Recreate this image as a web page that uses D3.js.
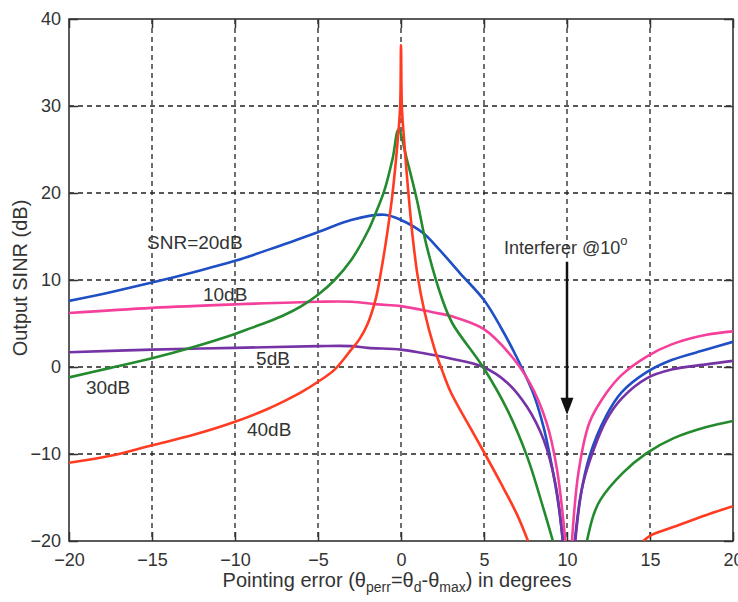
<!DOCTYPE html>
<html>
<head>
<meta charset="utf-8">
<script src="https://cdn.jsdelivr.net/npm/d3@7"></script>
<style>
  body { margin: 0; background: #fff; }
  text { font-family: "Liberation Sans", Arial, sans-serif; fill: #333; }
</style>
</head>
<body>
<script>
// axis ticks
var xTicks = [-20, -15, -10, -5, 0, 5, 10, 15, 20];
var yTicks = [-20, -10, 0, 10, 20, 30, 40];

// curves, null splits the two branches around the null at 10 deg
var snr20X = [-20, -17.5, -15, -12.5, -10, -7.5, -5, -3, -1, 0, 1.33, 2.35, 3.55, 5, 6, 7, 8, 8.6, 9.1, 9.5, 9.75, null, 10.47, 10.8, 11.35, 12.37, 13.3, 14.8, 16.3, 18.4, 20];
var snr20Y = [7.6, 8.6, 9.7, 10.9, 12.2, 13.8, 15.5, 16.9, 17.5, 16.9, 15.4, 13.4, 10.8, 7.7, 4.6, 1.0, -3.2, -7.0, -11.5, -16, -20, null, -20, -15, -10.3, -5.6, -2.9, -0.6, 0.8, 2.0, 2.9];

var snr10X = [-20, -15, -10, -5, -3, -1.4, 0, 1.9, 3.1, 4.95, 6.5, 7.75, 8.77, 9.4, 9.9, null, 10.3, 10.7, 11.35, 12.37, 13.3, 14.8, 16.3, 18.4, 20];
var snr10Y = [6.2, 6.8, 7.2, 7.5, 7.5, 7.2, 7.0, 6.3, 5.8, 4.4, 1.6, -1.8, -6.4, -11.8, -20, null, -20, -12, -6.4, -3.0, -0.9, 1.2, 2.6, 3.7, 4.1];

var snr5X = [-20, -15, -10, -5, -3, -2, 0, 1.3, 2.9, 4.95, 6.4, 7.6, 8.6, 9.3, 9.75, null, 10.5, 10.9, 11.35, 12.37, 13.3, 14.8, 16.3, 18.4, 20];
var snr5Y = [1.7, 2.0, 2.2, 2.4, 2.4, 2.2, 2.0, 1.6, 1.0, 0.0, -1.8, -4.6, -8.4, -13.4, -20, null, -20, -14, -10.9, -6.1, -3.6, -1.3, -0.3, 0.3, 0.7];

var snr30X = [-20, -17.5, -15, -12.5, -10, -9, -8, -7, -6, -5, -4, -3, -2, -1.5, -1, -0.5, -0.15, 0.36, 0.96, 1.56, 2.5, 3.1, 4.94, 6.4, 7.6, 8.6, 9.15, null, 11.2, 11.6, 12.0, 13.35, 14.8, 16.4, 18.4, 20];
var snr30Y = [-1.2, -0.1, 1.0, 2.3, 3.8, 4.5, 5.2, 6.0, 7.0, 8.3, 10.0, 12.3, 15.6, 17.8, 20.3, 24, 27.3, 23.8, 19.2, 13.8, 7.7, 5.0, 0, -4.9, -10.3, -16.4, -20, null, -20, -17, -15.3, -12.2, -9.9, -8.2, -6.9, -6.2];

var snr40X = [-20, -17.5, -15, -12.5, -10, -8, -7, -6, -5, -4, -3, -2.5, -2, -1.5, -1.2, -0.9, -0.55, -0.2, -0.05, 0, 0.05, 0.15, 0.4, 0.7, 1.0, 1.4, 2.0, 2.5, 3, 4, 5, 6, 7, 7.65, null, 14.6, 15, 16.4, 18.4, 20];
var snr40Y = [-11.0, -10.2, -9.0, -7.8, -6.3, -4.8, -3.9, -2.9, -1.7, -0.3, 2.0, 3.2, 5.0, 8.0, 11, 14.5, 19.3, 26, 30, 37, 30, 27, 21, 15, 10.5, 6.5, 2.2, -0.5, -2.9, -6.4, -9.8, -13.3, -17, -20, null, -20, -19.4, -18.4, -17.0, -16.0];

var curveNames = ["SNR=20dB", "10dB", "5dB", "30dB", "40dB"];
var curveColors = ["#1f4fc4", "#f5409b", "#7633a6", "#238a2e", "#ff3b22"];
var curveXs = [snr20X, snr10X, snr5X, snr30X, snr40X];
var curveYs = [snr20Y, snr10Y, snr5Y, snr30Y, snr40Y];

// where the curve labels sit (data coords, text start / baseline)
var labelX = [-15.3, -11.93, -8.73, -18.98, -9.28];
var labelY = [13.56, 7.6, 0.23, -3.1, -7.93];

// interferer arrow
var arrowX = 10, arrowTop = 12.1, arrowTip = -5.5;

var w = 738, h = 602;
var margin = {left: 69, right: 5, top: 19, bottom: 61};

var svg = d3.select("body").append("svg")
  .attr("width", w)
  .attr("height", h);

var x = d3.scaleLinear().domain([-20, 20]).range([margin.left, w - margin.right]);
var y = d3.scaleLinear().domain([-20, 40]).range([h - margin.bottom, margin.top]);

svg.append("defs").append("clipPath").attr("id", "plotclip")
  .append("rect")
  .attr("x", x(-20)).attr("y", y(40))
  .attr("width", x(20) - x(-20)).attr("height", y(-20) - y(40));

// grid
var grid = svg.append("g");
grid.selectAll("line.gx")
  .data(xTicks.slice(1, -1))
  .enter().append("line")
  .attr("class", "gx")
  .attr("x1", function(d) { return x(d); })
  .attr("x2", function(d) { return x(d); })
  .attr("y1", y(40)).attr("y2", y(-20))
  .attr("stroke", "#222").attr("stroke-width", 1.3)
  .attr("stroke-dasharray", "5,4");
grid.selectAll("line.gy")
  .data(yTicks.slice(1, -1))
  .enter().append("line")
  .attr("class", "gy")
  .attr("y1", function(d) { return y(d); })
  .attr("y2", function(d) { return y(d); })
  .attr("x1", x(-20)).attr("x2", x(20))
  .attr("stroke", "#222").attr("stroke-width", 1.3)
  .attr("stroke-dasharray", "5,4");

// axes, ticks pointing inward on all four sides
var tickLen = 9;
var bottomAxis = d3.axisBottom(x).tickValues(xTicks).tickSize(-tickLen).tickPadding(12).tickFormat(d3.format("d"));
var topAxis = d3.axisTop(x).tickValues(xTicks).tickSize(-tickLen).tickFormat("");
var leftAxis = d3.axisLeft(y).tickValues(yTicks).tickSize(-tickLen).tickPadding(8).tickFormat(d3.format("d"));
var rightAxis = d3.axisRight(y).tickValues(yTicks).tickSize(-tickLen).tickFormat("");

function styleAxis(g) {
  g.select(".domain").remove();
  g.selectAll(".tick line").attr("stroke", "#333").attr("stroke-width", 1.5);
  g.selectAll(".tick text").attr("font-size", 18).attr("fill", "#333")
    .style("font-family", "'Liberation Sans', Arial, sans-serif");
}

svg.append("g").attr("transform", "translate(0," + y(-20) + ")").call(bottomAxis).call(styleAxis);
svg.append("g").attr("transform", "translate(0," + y(40) + ")").call(topAxis).call(styleAxis);
svg.append("g").attr("transform", "translate(" + x(-20) + ",0)").call(leftAxis).call(styleAxis);
svg.append("g").attr("transform", "translate(" + x(20) + ",0)").call(rightAxis).call(styleAxis);

svg.append("rect")
  .attr("x", x(-20)).attr("y", y(40))
  .attr("width", x(20) - x(-20)).attr("height", y(-20) - y(40))
  .attr("fill", "none").attr("stroke", "#333").attr("stroke-width", 1.6);

// curves
var line = d3.line()
  .defined(function(d) { return d[0] !== null; })
  .x(function(d) { return x(d[0]); })
  .y(function(d) { return y(d[1]); })
  .curve(d3.curveCatmullRom.alpha(0.5));

var drawOrder = [0, 1, 2, 3, 4];
var plot = svg.append("g").attr("clip-path", "url(#plotclip)");
plot.selectAll("path.curve")
  .data(drawOrder)
  .enter().append("path")
  .attr("class", "curve")
  .attr("fill", "none")
  .attr("stroke", function(i) { return curveColors[i]; })
  .attr("stroke-width", 2.6)
  .attr("stroke-linejoin", "round")
  .attr("d", function(i) {
    var pts = curveXs[i].map(function(v, j) { return [v, curveYs[i][j]]; });
    return line(pts);
  });

// curve labels
svg.selectAll("text.lbl")
  .data(curveNames)
  .enter().append("text")
  .attr("class", "lbl")
  .attr("x", function(d, i) { return x(labelX[i]); })
  .attr("y", function(d, i) { return y(labelY[i]); })
  .attr("font-size", 19)
  .text(function(d) { return d; });

// interferer annotation
var note = svg.append("text")
  .attr("x", x(6.2)).attr("y", y(13.0))
  .attr("font-size", 18);
note.append("tspan").text("Interferer @10");
note.append("tspan").attr("font-size", 13).attr("dy", -9).text("o");

svg.append("line")
  .attr("x1", x(arrowX)).attr("x2", x(arrowX))
  .attr("y1", y(arrowTop)).attr("y2", y(arrowTip) - 14)
  .attr("stroke", "#111").attr("stroke-width", 2.5);
svg.append("path")
  .attr("d", "M" + (x(arrowX) - 6.5) + "," + (y(arrowTip) - 17) +
    " L" + (x(arrowX) + 6.5) + "," + (y(arrowTip) - 17) +
    " L" + x(arrowX) + "," + y(arrowTip) + " Z")
  .attr("fill", "#111");

// axis titles
var xl = svg.append("text")
  .attr("x", (x(-20) + x(20)) / 2 - 4)
  .attr("y", 587)
  .attr("text-anchor", "middle")
  .attr("font-size", 20);
xl.append("tspan").text("Pointing error (\u03b8");
xl.append("tspan").attr("font-size", 14).attr("dy", 5).text("perr");
xl.append("tspan").attr("dy", -5).text("=\u03b8");
xl.append("tspan").attr("font-size", 14).attr("dy", 5).text("d");
xl.append("tspan").attr("dy", -5).text("-\u03b8");
xl.append("tspan").attr("font-size", 14).attr("dy", 5).text("max");
xl.append("tspan").attr("dy", -5).text(") in degrees");

svg.append("text")
  .attr("transform", "translate(27," + 278 + ") rotate(-90)")
  .attr("text-anchor", "middle")
  .attr("font-size", 20)
  .text("Output SINR (dB)");
</script>
</body>
</html>
